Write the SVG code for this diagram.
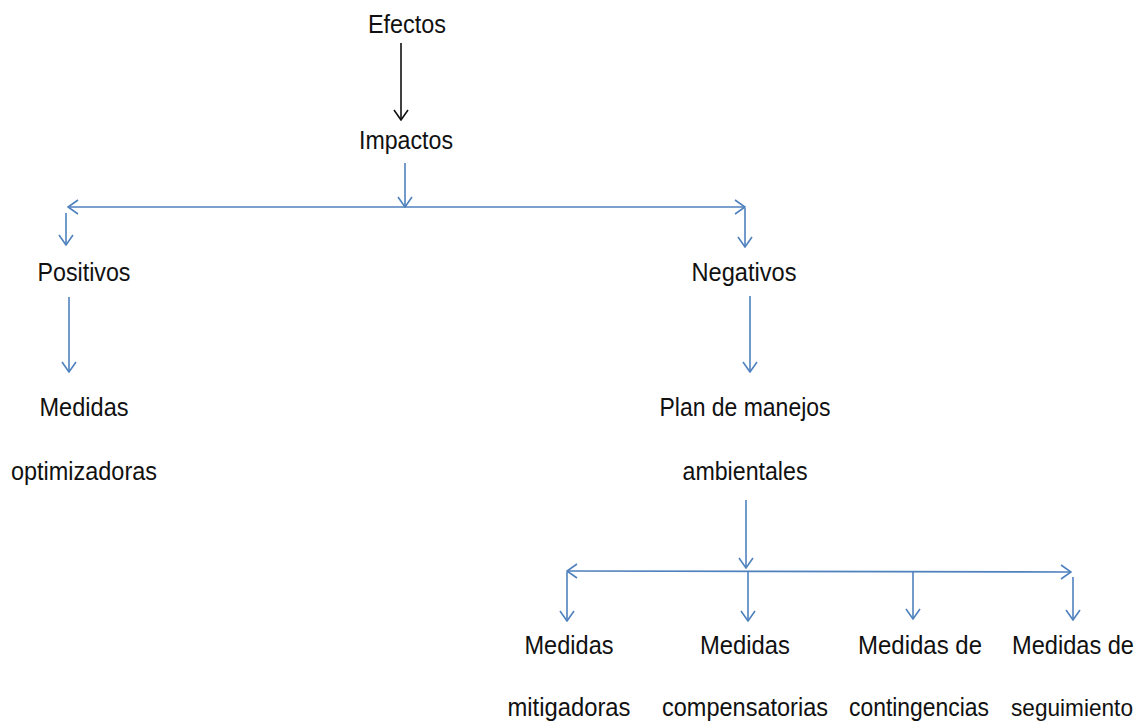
<svg xmlns="http://www.w3.org/2000/svg" width="1142" height="726" viewBox="0 0 1142 726">
<style>
text{font-family:"Liberation Sans",Arial,sans-serif;font-size:25.5px;fill:#111;text-anchor:middle}
.b{stroke:#4f81bd;stroke-width:1.6;fill:none}
.k{stroke:#111;stroke-width:1.6;fill:none}
</style>
<defs>
<marker id="ab" viewBox="0 0 12 16" refX="11" refY="8" markerWidth="12" markerHeight="16" markerUnits="userSpaceOnUse" orient="auto-start-reverse">
<path d="M1,1 L11,8 L1,15" fill="none" stroke="#4f81bd" stroke-width="1.6"/>
</marker>
<marker id="ak" viewBox="0 0 12 16" refX="11" refY="8" markerWidth="12" markerHeight="16" markerUnits="userSpaceOnUse" orient="auto">
<path d="M1,1 L11,8 L1,15" fill="none" stroke="#111" stroke-width="1.6"/>
</marker>
</defs>
<rect width="1142" height="726" fill="#fff"/>
<g id="connectors">
<line class="k" x1="401" y1="43" x2="401" y2="120" marker-end="url(#ak)"/>
<line class="b" x1="405" y1="163" x2="405" y2="207" marker-end="url(#ab)"/>
<line class="b" x1="68" y1="207" x2="745" y2="207" marker-start="url(#ab)" marker-end="url(#ab)"/>
<line class="b" x1="66" y1="213" x2="66" y2="245" marker-end="url(#ab)"/>
<line class="b" x1="745" y1="208" x2="745" y2="247" marker-end="url(#ab)"/>
<line class="b" x1="69" y1="297" x2="69" y2="372" marker-end="url(#ab)"/>
<line class="b" x1="750" y1="296" x2="750" y2="372" marker-end="url(#ab)"/>
<line class="b" x1="746" y1="500" x2="746" y2="568" marker-end="url(#ab)"/>
<line class="b" x1="567" y1="571" x2="1071" y2="572" marker-start="url(#ab)" marker-end="url(#ab)"/>
<line class="b" x1="567" y1="572" x2="567" y2="621" marker-end="url(#ab)"/>
<line class="b" x1="748" y1="571" x2="748" y2="621" marker-end="url(#ab)"/>
<line class="b" x1="913" y1="572" x2="913" y2="619" marker-end="url(#ab)"/>
<line class="b" x1="1073" y1="577" x2="1073" y2="620" marker-end="url(#ab)"/>
</g>
<g id="efectos"><text x="407" y="33" textLength="78" lengthAdjust="spacingAndGlyphs">Efectos</text></g>
<g id="impactos"><text x="406" y="149" textLength="94" lengthAdjust="spacingAndGlyphs">Impactos</text></g>
<g id="positivos"><text x="84" y="281" textLength="93" lengthAdjust="spacingAndGlyphs">Positivos</text></g>
<g id="negativos"><text x="744" y="281" textLength="105" lengthAdjust="spacingAndGlyphs">Negativos</text></g>
<g id="optimizadoras"><text x="84" y="416" textLength="89" lengthAdjust="spacingAndGlyphs">Medidas</text><text x="84" y="480" textLength="146" lengthAdjust="spacingAndGlyphs">optimizadoras</text></g>
<g id="plan"><text x="745" y="416" textLength="171" lengthAdjust="spacingAndGlyphs">Plan de manejos</text><text x="745" y="480" textLength="125" lengthAdjust="spacingAndGlyphs">ambientales</text></g>
<g id="mitigadoras"><text x="569" y="654" textLength="89" lengthAdjust="spacingAndGlyphs">Medidas</text><text x="569" y="716" textLength="123" lengthAdjust="spacingAndGlyphs">mitigadoras</text></g>
<g id="compensatorias"><text x="745" y="654" textLength="90" lengthAdjust="spacingAndGlyphs">Medidas</text><text x="745" y="716" textLength="166" lengthAdjust="spacingAndGlyphs">compensatorias</text></g>
<g id="contingencias"><text x="920" y="654" textLength="124" lengthAdjust="spacingAndGlyphs">Medidas de</text><text x="919" y="716" textLength="140" lengthAdjust="spacingAndGlyphs">contingencias</text></g>
<g id="seguimiento"><text x="1073" y="654" textLength="122" lengthAdjust="spacingAndGlyphs">Medidas de</text><text x="1072" y="716" style="font-size:24px" textLength="122" lengthAdjust="spacingAndGlyphs">seguimiento</text></g>
</svg>
